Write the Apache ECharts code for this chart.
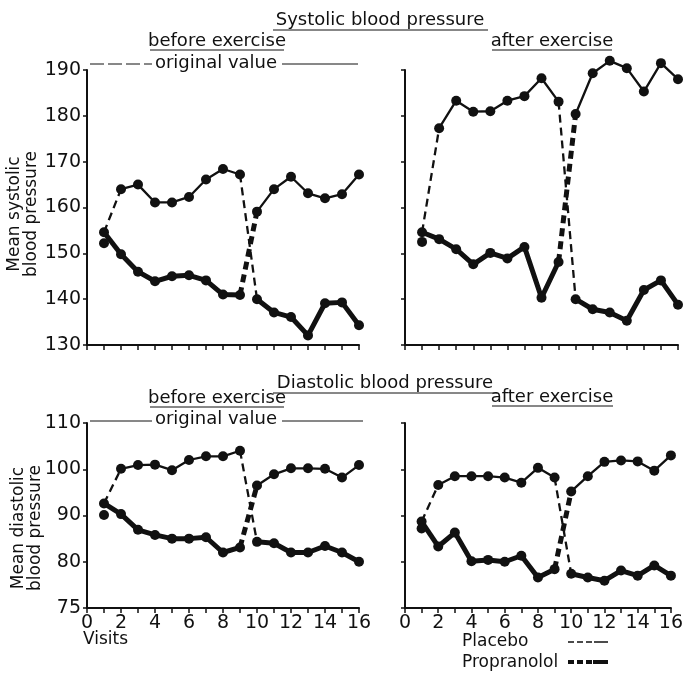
<!DOCTYPE html>
<html>
<head>
<meta charset="utf-8">
<script src="https://cdn.jsdelivr.net/npm/echarts@6/dist/echarts.min.js"></script>
<style>
  html, body { margin: 0; padding: 0; background: #fff; }
  #chart { width: 686px; height: 673px; }
</style>
</head>
<body>
<div id="chart"></div>
<script>
// visits 1..16, placebo-first group (A) and propranolol-first group (B)
var visits = [1, 2, 3, 4, 5, 6, 7, 8, 9, 10, 11, 12, 13, 14, 15, 16];

var sysBeforeA = [154.6, 164.0, 165.0, 161.1, 161.1, 162.3, 166.1, 168.4, 167.2, 140.0, 137.1, 136.1, 132.1, 139.1, 139.3, 134.3];
var sysBeforeB = [152.2, 149.8, 146.0, 143.9, 145.0, 145.2, 144.1, 141.0, 140.9, 159.1, 164.0, 166.7, 163.1, 162.0, 162.9, 167.2];
var sysAfterA = [154.6, 177.3, 183.3, 180.9, 181.0, 183.3, 184.3, 188.2, 183.1, 140.0, 137.8, 137.1, 135.3, 142.0, 144.1, 138.8];
var sysAfterB = [152.5, 153.1, 150.9, 147.6, 150.1, 148.9, 151.4, 140.3, 148.1, 180.4, 189.3, 192.0, 190.4, 185.3, 191.5, 188.0];

var diaBeforeA = [92.6, 100.1, 100.9, 101.0, 99.8, 102.0, 102.8, 102.8, 104.0, 84.3, 84.0, 82.0, 82.0, 83.4, 82.0, 80.0];
var diaBeforeB = [90.1, 90.3, 86.9, 85.8, 85.0, 85.0, 85.3, 82.0, 83.1, 96.5, 98.9, 100.2, 100.2, 100.1, 98.2, 100.9];
var diaAfterA = [88.7, 96.6, 98.5, 98.5, 98.5, 98.2, 97.1, 100.3, 98.2, 77.4, 76.6, 75.9, 78.1, 77.0, 79.2, 77.0];
var diaAfterB = [87.2, 83.3, 86.3, 80.1, 80.4, 80.0, 81.3, 76.6, 78.4, 95.2, 98.5, 101.6, 101.9, 101.7, 99.7, 103.0];

// tick labels
var sysTicks = [130, 140, 150, 160, 170, 180, 190];
var diaTicks = [70, 80, 90, 100, 110];     // bottom tick is printed as 75 in the original
var diaTickText = ['75', '80', '90', '100', '110'];
var visitTicks = [0, 2, 4, 6, 8, 10, 12, 14, 16];

var FONT = 'DejaVu Sans';
var INK = '#111';
var THIN = 2.3, THICK = 5;

var chart = echarts.init(document.getElementById('chart'));

function pairs(arr, from, to) {
  var out = [];
  for (var i = from; i <= to; i++) out.push([visits[i], arr[i]]);
  return out;
}

function seg(p, data, width, dashed, dots) {
  return {
    type: 'line',
    xAxisIndex: p, yAxisIndex: p,
    data: data,
    clip: false,
    symbol: 'circle',
    symbolSize: 10,
    showSymbol: dots,
    itemStyle: { color: INK, opacity: 1 },
    lineStyle: { color: INK, width: width, type: dashed ? [8, 5] : 'solid' },
    emphasis: { disabled: true },
    silent: true,
    z: dots ? 3 : 2
  };
}

function panelSeries(p, A, B) {
  return [
    seg(p, pairs(A, 0, 1), THIN, true, false),
    seg(p, pairs(A, 1, 8), THIN, false, true),
    seg(p, pairs(A, 8, 9), THIN, true, false),
    seg(p, pairs(A, 9, 15), THICK, false, true),
    seg(p, [[visits[0], A[0]], [visits[1], B[1]]], THICK, false, false),
    seg(p, pairs(B, 1, 8), THICK, false, true),
    seg(p, pairs(B, 8, 9), THICK, true, false),
    seg(p, pairs(B, 9, 15), THIN, false, true),
    {
      type: 'scatter', xAxisIndex: p, yAxisIndex: p,
      data: [[visits[0], A[0]], [visits[0], B[0]]],
      symbolSize: 10, itemStyle: { color: INK, opacity: 1 }, silent: true, z: 4
    }
  ];
}

function xAxis(p, labels) {
  return {
    type: 'value', gridIndex: p, min: 0, max: 16, interval: 1,
    axisLine: { lineStyle: { color: INK, width: 2 } },
    axisTick: { show: true, inside: false, length: 5, lineStyle: { color: INK, width: 1.5 } },
    splitLine: { show: false },
    axisLabel: {
      show: labels, margin: 6, color: INK, fontFamily: FONT, fontSize: 19,
      formatter: function (v) { return visitTicks.indexOf(v) >= 0 ? String(v) : ''; }
    }
  };
}

function yAxis(p, ticks, texts, labels) {
  return {
    type: 'value', gridIndex: p,
    min: ticks[0], max: ticks[ticks.length - 1], interval: 10,
    axisLine: { show: true, lineStyle: { color: INK, width: 2 } },
    axisTick: { show: true, length: 4, lineStyle: { color: INK, width: 1.5 } },
    splitLine: { show: false },
    axisLabel: {
      show: labels, margin: 6, color: INK, fontFamily: FONT, fontSize: 19,
      formatter: function (v) {
        var i = ticks.indexOf(v);
        return i >= 0 ? (texts ? texts[i] : String(v)) : '';
      }
    }
  };
}

function txt(x, y, s, size, opts, align) {
  var o = {
    type: 'text', x: x, y: y, silent: true,
    style: { text: s, fontFamily: FONT, fontSize: size, fill: INK, align: align || 'center', verticalAlign: 'middle' }
  };
  if (opts) for (var k in opts) o[k] = opts[k];
  return o;
}

function hline(x1, x2, y, w, dash) {
  return {
    type: 'line', silent: true,
    shape: { x1: x1, y1: y, x2: x2, y2: y },
    style: { stroke: INK, lineWidth: w, lineDash: dash || null }
  };
}

var graphics = [
  txt(380, 20, 'Systolic blood pressure', 18),
  hline(273, 488, 30, 1),
  txt(217, 41, 'before exercise', 18),
  hline(150, 284, 50, 1),
  txt(552, 41, 'after exercise', 18),
  hline(492, 612, 50, 1),
  txt(216, 63, 'original value', 18),
  hline(90, 152, 64, 1, [14, 4]),
  hline(282, 358, 64, 1),

  txt(385, 383, 'Diastolic blood pressure', 18),
  hline(273, 497, 393, 1),
  txt(217, 398, 'before exercise', 18),
  hline(150, 284, 407, 1),
  txt(552, 397, 'after exercise', 18),
  hline(492, 613, 406, 1),
  txt(216, 419, 'original value', 18),
  hline(90, 152, 421, 1),
  hline(282, 363, 421, 1),

  txt(23, 214, 'Mean systolic\nblood pressure', 17, { rotation: Math.PI / 2 }),
  txt(27, 528, 'Mean diastolic\nblood pressure', 17, { rotation: Math.PI / 2 }),

  txt(83, 640, 'Visits', 17, null, 'left'),
  txt(462, 642, 'Placebo', 17, null, 'left'),
  txt(462, 663, 'Propranolol', 17, null, 'left'),
  hline(568, 593, 642, 1.5, [6, 3]),
  hline(594, 608, 642, 1.5),
  hline(568, 593, 662, 4, [6, 3]),
  hline(593, 608, 662, 4)
];

var option = {
  backgroundColor: '#fff',
  animation: false,
  grid: [
    { left: 87, top: 70, width: 272, height: 275 },
    { left: 405, top: 70, width: 273, height: 275 },
    { left: 87, top: 423, width: 272, height: 185 },
    { left: 405, top: 423, width: 273, height: 185 }
  ],
  xAxis: [xAxis(0, false), xAxis(1, false), xAxis(2, true), xAxis(3, true)],
  yAxis: [
    yAxis(0, sysTicks, null, true),
    yAxis(1, sysTicks, null, false),
    yAxis(2, diaTicks, diaTickText, true),
    yAxis(3, diaTicks, diaTickText, false)
  ],
  series: [].concat(
    panelSeries(0, sysBeforeA, sysBeforeB),
    panelSeries(1, sysAfterA, sysAfterB),
    panelSeries(2, diaBeforeA, diaBeforeB),
    panelSeries(3, diaAfterA, diaAfterB)
  ),
  graphic: graphics
};

chart.setOption(option);
</script>
</body>
</html>
